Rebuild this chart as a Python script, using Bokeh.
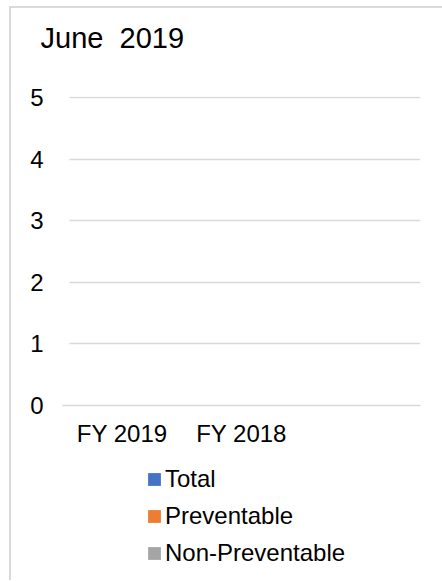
from bokeh.plotting import figure
from bokeh.layouts import column
from bokeh.models import Range1d, FactorRange, Title, Legend, LegendItem, FixedTicker
from bokeh.transform import dodge
from bokeh.embed import file_html
from bokeh.resources import INLINE

# ---- data (chart is empty: all values zero) ----
categories = ["FY 2019", "FY 2018", " "]
total = [0, 0, 0]
preventable = [0, 0, 0]
non_preventable = [0, 0, 0]
series_names = ["Total", "Preventable", "Non-Preventable"]
series_colors = ["#4472C4", "#ED7D31", "#A5A5A5"]
y_ticks = [0, 1, 2, 3, 4, 5]
title_text = "June\u00a0 2019"

FONT = "Liberation Sans"

p = figure(
    x_range=FactorRange(*categories, range_padding=0),
    y_range=Range1d(0, 5.02),
    frame_width=358, frame_height=309,
    output_backend="svg", toolbar_location=None,
    min_border_left=51, min_border_right=22, min_border_top=88, min_border_bottom=60,
)

src = dict(cat=categories, total=total, preventable=preventable, non_preventable=non_preventable)
cols = ["total", "preventable", "non_preventable"]
offsets = [-0.25, 0.0, 0.25]
for c, off, col in zip(cols, offsets, series_colors):
    p.vbar(x=dodge("cat", off, range=p.x_range), top=c, width=0.22, source=src,
           fill_color=col, line_color=None)

# title (a blank spacer title keeps it away from the plot area)
p.title = None
p.add_layout(Title(text=" ", text_font_size="1px", standoff=40), "above")
p.add_layout(Title(text=title_text, align="left", text_font=FONT, text_font_size="29px",
                   text_font_style="normal", text_color="#000000", offset=-22, standoff=0),
             "above")

# axes
p.outline_line_color = None
p.xgrid.grid_line_color = None
p.ygrid.grid_line_color = "#D9D9D9"
p.ygrid.grid_line_width = 1.5
p.ygrid.cross_bounds = (0.06, 3)
p.yaxis.ticker = FixedTicker(ticks=y_ticks)
p.yaxis.axis_line_color = None
p.yaxis.major_tick_line_color = None
p.yaxis.minor_tick_line_color = None
p.yaxis.major_label_standoff = 13
p.yaxis.major_label_text_font = FONT
p.yaxis.major_label_text_font_size = "24px"
p.yaxis.major_label_text_color = "#000000"

p.xaxis.axis_line_color = "#D9D9D9"
p.xaxis.axis_line_width = 1.5
p.xaxis.major_tick_line_color = None
p.xaxis.minor_tick_line_color = None
p.xaxis.major_label_standoff = 8
p.xaxis.major_label_text_font = FONT
p.xaxis.major_label_text_font_size = "24px"
p.xaxis.major_label_text_color = "#000000"

# legend panel below the chart
pl = figure(
    x_range=FactorRange(*categories), y_range=Range1d(0, 5),
    frame_width=358, frame_height=115, output_backend="svg", toolbar_location=None,
    min_border_left=51, min_border_right=22, min_border_top=0, min_border_bottom=0,
)
pl.title = None
pl.axis.visible = False
pl.grid.grid_line_color = None
pl.outline_line_color = None
items = []
for c, off, col, name in zip(cols, offsets, series_colors, series_names):
    r = pl.vbar(x=dodge("cat", off, range=pl.x_range), top=c, width=0.22, source=src,
                fill_color=col, line_color=None)
    items.append(LegendItem(label=name, renderers=[r]))
legend = Legend(items=items, location=(84, 13), orientation="vertical")
legend.label_text_font = FONT
legend.label_text_font_size = "24px"
legend.label_text_color = "#000000"
legend.glyph_width = 16
legend.glyph_height = 16
legend.label_standoff = 3
legend.spacing = 9
legend.padding = 0
legend.margin = 0
legend.border_line_color = None
legend.background_fill_alpha = 0
pl.add_layout(legend, "center")

layout = column(p, pl, spacing=0)
layout.styles = {"border-left": "2px solid #D9D9D9", "border-top": "2px solid #D9D9D9",
                 "margin-left": "9px", "margin-top": "6px"}

open("out.html", "w").write(file_html(layout, INLINE))
